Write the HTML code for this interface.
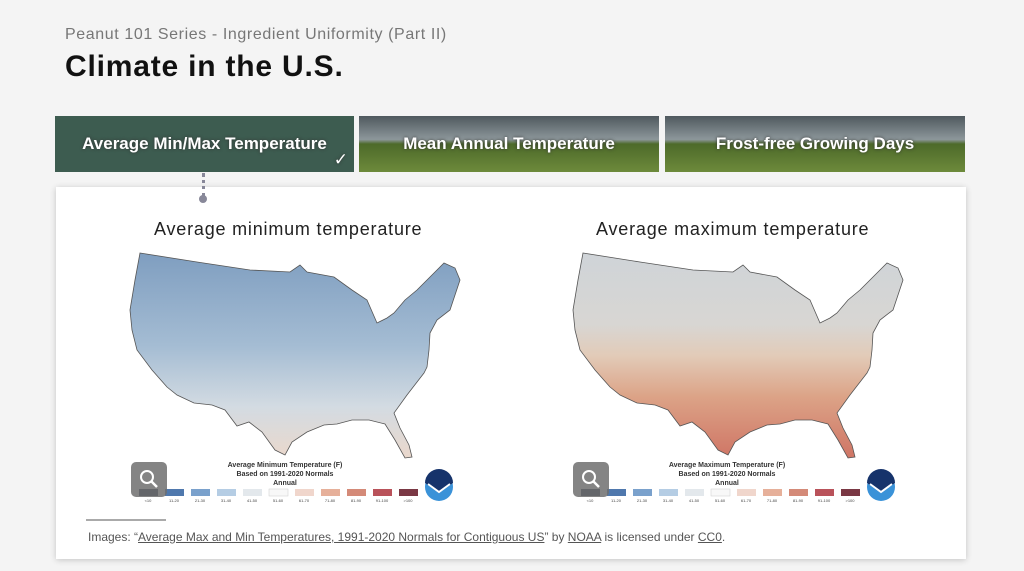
<!DOCTYPE html>
<html><head><style>
body{margin:0;width:1024px;height:571px;background:#f4f4f4;font-family:"Liberation Sans",sans-serif;position:relative;overflow:hidden}
.sub{position:absolute;left:65px;top:26px;font-size:16px;color:#777;letter-spacing:.6px}
.h1{position:absolute;left:65px;top:50px;font-size:30px;font-weight:bold;color:#111;letter-spacing:.8px}
.tab{position:absolute;top:116px;height:56px;color:#fff;font-weight:bold;font-size:17px;display:flex;align-items:center;justify-content:center;text-shadow:0 0 3px #333}
.card{position:absolute;left:56px;top:187px;width:910px;height:372px;background:#fff;box-shadow:0 1px 6px rgba(0,0,0,.2)}
.t{position:absolute;font-size:18px;color:#222;top:219px;letter-spacing:.8px}
.foot{position:absolute;left:88px;top:530px;font-size:12px;color:#555}
.foot u{color:#555}
</style></head><body>
<div class="sub">Peanut 101 Series - Ingredient Uniformity (Part II)</div>
<div class="h1">Climate in the U.S.</div>
<div class="tab" style="left:55px;width:299px;background:#3d5c50">Average Min/Max Temperature<span style="position:absolute;right:6px;bottom:2px;font-weight:normal">✓</span></div>
<div class="tab" style="left:359px;width:300px;background:linear-gradient(#4f595e 0,#8d979b 42%,#4d6a2a 50%,#6d8a3b 100%)">Mean Annual Temperature</div>
<div class="tab" style="left:665px;width:300px;background:linear-gradient(#4f595e 0,#8d979b 42%,#4d6a2a 50%,#6d8a3b 100%)">Frost-free Growing Days</div>
<div class="card"></div>
<div style="position:absolute;left:202px;top:173px;height:24px;border-left:3px dotted #889"></div>
<div style="position:absolute;left:199px;top:195px;width:8px;height:8px;border-radius:50%;background:#889"></div>
<div class="t" style="left:154px">Average minimum temperature</div>
<div class="t" style="left:596px">Average maximum temperature</div>
<svg style="position:absolute;left:0;top:0" width="1024" height="571">
<defs>
<linearGradient id="gmin" x1="0" y1="0" x2="0" y2="1"><stop offset="0" stop-color="#7f9ec0"/><stop offset=".45" stop-color="#a4bcd3"/><stop offset=".75" stop-color="#d3dbe2"/><stop offset="1" stop-color="#ead8cc"/></linearGradient>
<linearGradient id="gmax" x1="0" y1="0" x2="0" y2="1"><stop offset="0" stop-color="#cfd4d8"/><stop offset=".35" stop-color="#d8d6d3"/><stop offset=".5" stop-color="#e2cbb8"/><stop offset=".7" stop-color="#dca387"/><stop offset="1" stop-color="#cf7565"/></linearGradient>
<path id="us" d="M583,253 L640,262 L693,270 L733,272 L743,265 L750,272 L777,277 L795,290 L810,300 L820,323 L830,318 L837,313 L848,300 L860,290 L878,272 L887,263 L898,268 L903,280 L893,310 L880,320 L873,333 L872,350 L870,367 L867,373 L850,395 L837,413 L843,428 L852,445 L855,457 L848,458 L838,440 L828,424 L812,420 L795,420 L780,424 L767,425 L750,432 L735,442 L728,455 L718,450 L705,432 L692,422 L680,426 L668,410 L655,405 L637,403 L620,395 L610,387 L595,370 L580,350 L575,330 L573,310 L578,280 Z"/>
</defs>
<use href="#us" fill="url(#gmax)" stroke="#555" stroke-width=".8"/>
<use href="#us" transform="translate(-443,0)" fill="url(#gmin)" stroke="#555" stroke-width=".8"/>
<g font-size="7" font-weight="bold" fill="#333" text-anchor="middle">
<text x="285" y="467">Average Minimum Temperature (F)</text><text x="285" y="476">Based on 1991-2020 Normals</text><text x="285" y="485">Annual</text>
<text x="727" y="467">Average Maximum Temperature (F)</text><text x="727" y="476">Based on 1991-2020 Normals</text><text x="727" y="485">Annual</text>
</g>
<g id="leg">
<rect x="139" y="489" width="19" height="7" fill="#2b3a4f"/><rect x="165" y="489" width="19" height="7" fill="#4f78ad"/><rect x="191" y="489" width="19" height="7" fill="#7aa1cc"/><rect x="217" y="489" width="19" height="7" fill="#b5cde4"/><rect x="243" y="489" width="19" height="7" fill="#e3e8ec"/><rect x="269" y="489" width="19" height="7" fill="#f8f8f8" stroke="#ccc" stroke-width=".5"/><rect x="295" y="489" width="19" height="7" fill="#f0d6cc"/><rect x="321" y="489" width="19" height="7" fill="#e6b09a"/><rect x="347" y="489" width="19" height="7" fill="#d48a78"/><rect x="373" y="489" width="19" height="7" fill="#b9525a"/><rect x="399" y="489" width="19" height="7" fill="#7a3844"/>
<rect x="131" y="462" width="36" height="35" rx="5" fill="#6f6f6f" opacity=".85"/>
<circle cx="147" cy="477" r="6" fill="none" stroke="#fff" stroke-width="2"/><line x1="151" y1="481" x2="157" y2="487" stroke="#fff" stroke-width="2.5"/>
<circle cx="439" cy="487" r="14" fill="#3a92d8"/><path d="M425,483 A14,14 0 0 1 453,483 L439,493 Z" fill="#16336b"/><path d="M428,484 L439,492 L450,484" fill="none" stroke="#fff" stroke-width="2"/>
</g>
<use href="#leg" transform="translate(442,0)"/>
<g font-size="4" fill="#444" text-anchor="middle">
<text x="148" y="502">&lt;10</text><text x="174" y="502">11-20</text><text x="200" y="502">21-30</text><text x="226" y="502">31-40</text><text x="252" y="502">41-50</text><text x="278" y="502">51-60</text><text x="304" y="502">61-70</text><text x="330" y="502">71-80</text><text x="356" y="502">81-90</text><text x="382" y="502">91-100</text><text x="408" y="502">&gt;100</text>
<text x="590" y="502">&lt;10</text><text x="616" y="502">11-20</text><text x="642" y="502">21-30</text><text x="668" y="502">31-40</text><text x="694" y="502">41-50</text><text x="720" y="502">51-60</text><text x="746" y="502">61-70</text><text x="772" y="502">71-80</text><text x="798" y="502">81-90</text><text x="824" y="502">91-100</text><text x="850" y="502">&gt;100</text>
</g>
<line x1="86" y1="520" x2="166" y2="520" stroke="#555" stroke-width="1"/>
</svg>
<div class="foot">Images: “<u>Average Max and Min Temperatures, 1991-2020 Normals for Contiguous US</u>” by <u>NOAA</u> is licensed under <u>CC0</u>.</div>
</body></html>
